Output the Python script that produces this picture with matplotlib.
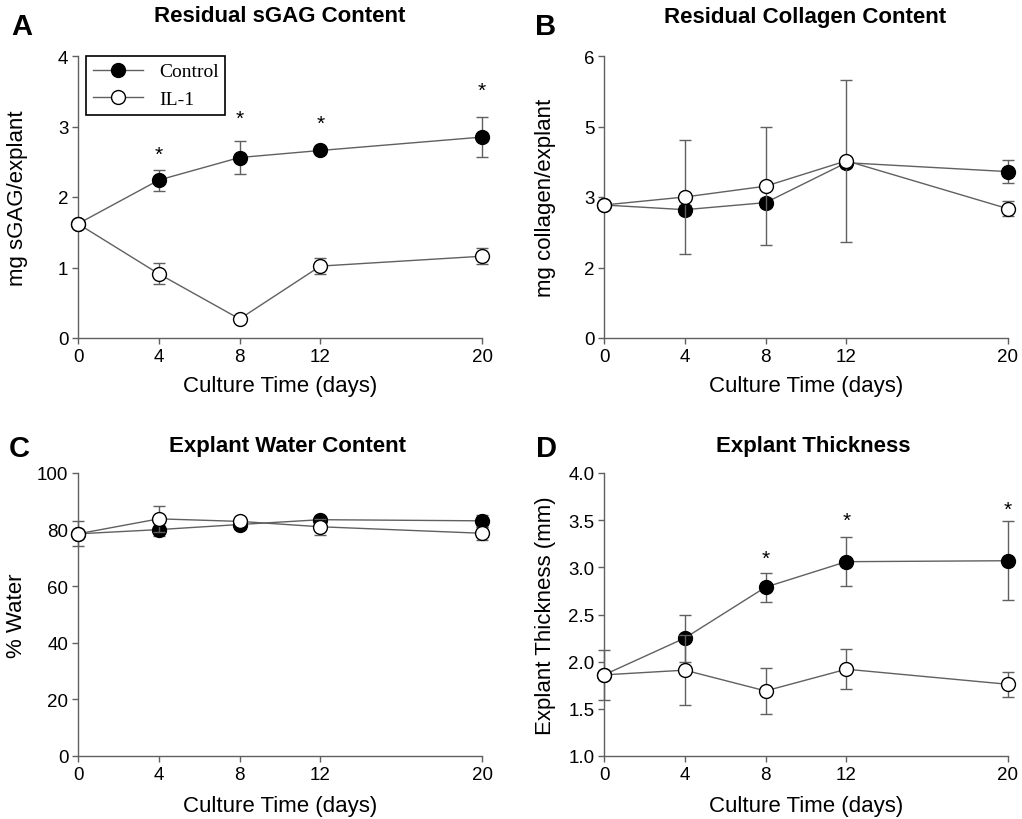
import numpy as np
import matplotlib
matplotlib.use("Agg")
import matplotlib.pyplot as plt
from matplotlib.lines import Line2D

plt.rcParams['font.family'] = ['Liberation Sans', 'DejaVu Sans']

# ---- data ----
days = [0, 4, 8, 12, 20]

sgag_ctrl = [1.62, 2.24, 2.56, 2.66, 2.85]
sgag_ctrl_err = [0.0, 0.15, 0.23, 0.03, 0.28]
sgag_il1 = [1.62, 0.91, 0.27, 1.02, 1.16]
sgag_il1_err = [0.0, 0.15, 0.03, 0.11, 0.11]
sgag_star_days = [4, 8, 12, 20]
sgag_star_y = [2.60, 3.12, 3.04, 3.51]

coll_ctrl = [2.83, 2.73, 2.88, 3.73, 3.54]
coll_ctrl_err = [0.0, 0.1, 0.1, 0.1, 0.25]
coll_il1 = [2.83, 3.00, 3.23, 3.77, 2.75]
coll_il1_err = [0.0, 1.22, 1.26, 1.72, 0.16]
coll_ticks = [0, 1.5, 3, 4.5, 6]
coll_ticklabels = ["0", "2", "3", "5", "6"]

water_ctrl = [78.5, 80.0, 81.8, 83.5, 83.1]
water_ctrl_err = [4.4, 2.4, 1.5, 1.0, 2.2]
water_il1 = [78.5, 83.8, 82.9, 81.0, 78.7]
water_il1_err = [0.0, 4.6, 1.0, 2.8, 2.3]

thick_ctrl = [1.86, 2.25, 2.79, 3.06, 3.07]
thick_ctrl_err = [0.265, 0.25, 0.155, 0.26, 0.42]
thick_il1 = [1.86, 1.91, 1.69, 1.92, 1.76]
thick_il1_err = [0.0, 0.37, 0.24, 0.21, 0.13]
thick_star_days = [8, 12, 20]
thick_star_y = [3.10, 3.50, 3.61]

W, H = 1022, 820
grey = '#606060'

fig = plt.figure(figsize=(W / 100, H / 100), dpi=100)


def px_axes(left, top, right, bottom):
    return fig.add_axes([left / W, 1 - bottom / H, (right - left) / W, (bottom - top) / H])


def style(ax, ylim, yticks, ylabel, ylab_x, xlab_y):
    ax.set_xlim(0, 20)
    ax.set_ylim(*ylim)
    ax.set_xticks(days)
    ax.set_yticks(yticks)
    for s in ['top', 'right']:
        ax.spines[s].set_visible(False)
    for s in ['left', 'bottom']:
        ax.spines[s].set_color(grey)
        ax.spines[s].set_linewidth(1.0)
    ax.tick_params(direction='out', length=4, width=1, color=grey, labelsize=13.5, pad=3)
    ax.set_xlabel('Culture Time (days)', fontsize=16)
    ax.set_ylabel(ylabel, fontsize=16)
    ax.xaxis.set_label_coords(0.5, xlab_y)
    ax.xaxis.label.set_va('center')
    ax.yaxis.set_label_coords(ylab_x, 0.5)
    ax.yaxis.label.set_va('center')


def draw(ax, ctrl, ctrl_err, il1, il1_err):
    kw = dict(fmt='-o', color=grey, lw=1, ecolor=grey, elinewidth=1, capsize=4,
              capthick=1, markersize=10, markeredgecolor='black', markeredgewidth=1,
              clip_on=False)
    ax.errorbar(days, ctrl, yerr=ctrl_err, markerfacecolor='black', zorder=3, **kw)
    ax.errorbar(days, il1, yerr=il1_err, markerfacecolor='white', zorder=4, **kw)


# A
axA = px_axes(78, 57, 482, 339)
draw(axA, sgag_ctrl, sgag_ctrl_err, sgag_il1, sgag_il1_err)
style(axA, (0, 4), [0, 1, 2, 3, 4], 'mg sGAG/explant', -0.149, -0.17)
for d, y in zip(sgag_star_days, sgag_star_y):
    axA.text(d, y, '*', ha='center', va='center', fontsize=15)
handles = [Line2D([], [], color=grey, lw=1, marker='o', markersize=10,
                  markerfacecolor=fc, markeredgecolor='black') for fc in ['black', 'white']]
leg = axA.legend(handles, ['Control', 'IL-1'], loc='upper left', bbox_to_anchor=(0.02, 1.0),
                 borderaxespad=0, frameon=True, fancybox=False, edgecolor='black',
                 framealpha=1, handlelength=2.6,
                 prop={'family': 'Liberation Serif', 'size': 14},
                 borderpad=0.35, labelspacing=0.5, handletextpad=0.8)
leg.get_frame().set_linewidth(1.2)

# B
axB = px_axes(604, 57, 1008, 339)
draw(axB, coll_ctrl, coll_ctrl_err, coll_il1, coll_il1_err)
style(axB, (0, 6), coll_ticks, 'mg collagen/explant', -0.144, -0.17)
axB.set_yticklabels(coll_ticklabels)

# C
axC = px_axes(78, 474, 482, 757)
draw(axC, water_ctrl, water_ctrl_err, water_il1, water_il1_err)
style(axC, (0, 100), [0, 20, 40, 60, 80, 100], '% Water', -0.153, -0.176)

# D
axD = px_axes(604, 474, 1008, 757)
draw(axD, thick_ctrl, thick_ctrl_err, thick_il1, thick_il1_err)
style(axD, (1, 4), [1.0, 1.5, 2.0, 2.5, 3.0, 3.5, 4.0], 'Explant Thickness (mm)', -0.144, -0.176)
axD.set_yticklabels(['%.1f' % t for t in axD.get_yticks()])
for d, y in zip(thick_star_days, thick_star_y):
    axD.text(d, y, '*', ha='center', va='center', fontsize=15)

# titles and panel letters
titles = ['Residual sGAG Content', 'Residual Collagen Content',
          'Explant Water Content', 'Explant Thickness']
title_pos = [(280, 17), (805, 17), (287, 447), (813, 447)]
letters = ['A', 'B', 'C', 'D']
letter_pos = [(22, 27), (546, 27), (19, 449), (546, 449)]
for t, (x, y) in zip(titles, title_pos):
    fig.text(x / W, 1 - y / H, t, ha='center', va='center', fontsize=16, fontweight='bold')
for t, (x, y) in zip(letters, letter_pos):
    fig.text(x / W, 1 - y / H, t, ha='center', va='center', fontsize=21, fontweight='bold')

fig.savefig('out.png', dpi=100, facecolor='white')
